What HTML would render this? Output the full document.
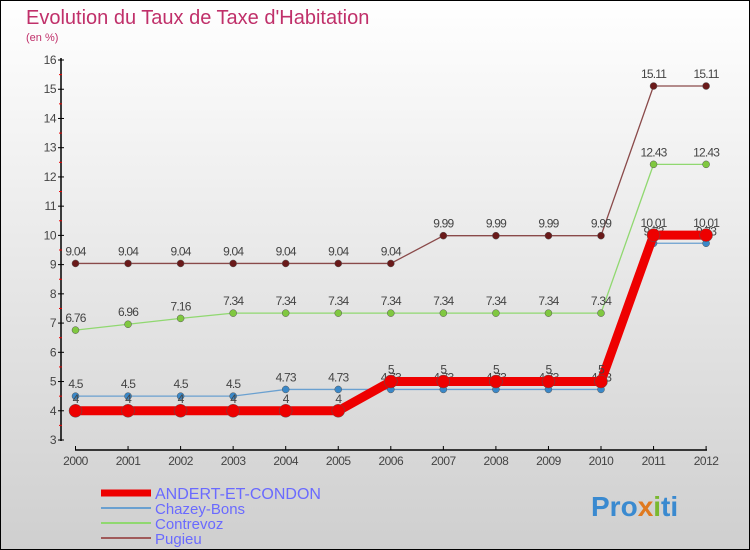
<!DOCTYPE html>
<html><head><meta charset="utf-8"><style>
body{margin:0}
#c{width:750px;height:550px;position:relative;overflow:hidden;font-family:"Liberation Sans",sans-serif}
</style></head><body>
<div id="c">
<svg id="s" width="750" height="550" xmlns="http://www.w3.org/2000/svg">
<defs><linearGradient id="bg" x1="0" y1="0" x2="0" y2="1"><stop offset="0" stop-color="#ffffff"/><stop offset="1" stop-color="#cfcfcf"/></linearGradient></defs>
<rect x="0.5" y="0.5" width="749" height="549" fill="url(#bg)" stroke="#000"/>
<text x="26" y="24" font-size="20" fill="#c0306a">Evolution du Taux de Taxe d'Habitation</text>
<text x="26" y="41" font-size="11" fill="#c0306a">(en %)</text>
<g id="g"></g>
<text x="591" y="516" font-size="28" font-weight="bold" fill="#3a8ad0">Pro<tspan fill="#e07a20">x</tspan><tspan fill="#7ab830">i</tspan>ti</text>
</svg>
</div>
<script>
const years=[2000,2001,2002,2003,2004,2005,2006,2007,2008,2009,2010,2011,2012];
const andert=[4,4,4,4,4,4,5,5,5,5,5,10.01,10.01];
const chazey=[4.5,4.5,4.5,4.5,4.73,4.73,4.73,4.73,4.73,4.73,4.73,9.73,9.73];
const contrevoz=[6.76,6.96,7.16,7.34,7.34,7.34,7.34,7.34,7.34,7.34,7.34,12.43,12.43];
const pugieu=[9.04,9.04,9.04,9.04,9.04,9.04,9.04,9.99,9.99,9.99,9.99,15.11,15.11];
const yTicks=[3,4,5,6,7,8,9,10,11,12,13,14,15,16];
const names=["ANDERT-ET-CONDON","Chazey-Bons","Contrevoz","Pugieu"];
const NS="http://www.w3.org/2000/svg";
const g=document.getElementById('g');
const X=i=>75.5+i*52.55;
const Y=v=>440-(v-3)*29.23;
function el(t,a,txt){const e=document.createElementNS(NS,t);for(const k in a)e.setAttribute(k,a[k]);if(txt!==undefined)e.textContent=txt;g.appendChild(e);return e;}
let e=el('line',{x1:61,y1:58,x2:61,y2:441,stroke:'#000','stroke-width':1.5});


e=el('line',{x1:75,y1:450,x2:707,y2:450,stroke:'#000','stroke-width':1.5});


yTicks.forEach(v=>{
 el('line',{x1:58,y1:Y(v),x2:64,y2:Y(v),stroke:'#000'});
 if(v<16){el('line',{x1:59,y1:Y(v+0.5),x2:62,y2:Y(v+0.5),stroke:'#e00'});}
 e=el('text',{x:56,y:Y(v)+4,'font-size':12,fill:'#444','text-anchor':'end','letter-spacing':'-0.5'},String(v));
 
 
});
years.forEach((y,i)=>{
 el('line',{x1:X(i),y1:446,x2:X(i),y2:450,stroke:'#000'});
 e=el('text',{x:X(i),y:465,'font-size':12,fill:'#444','text-anchor':'middle','letter-spacing':'-0.5'},String(y));
 
 
});
function series(data,color,w,r,name,dot){
 const p=data.map((v,i)=>X(i)+','+Y(v)).join(' ');
 let l=el('polyline',{points:p,fill:'none',stroke:color,'stroke-width':w,'stroke-linejoin':'round'});
 
 
 data.forEach((v,i)=>{
  let c=el('circle',{cx:X(i),cy:Y(v),r:r,fill:dot,stroke:'#555','stroke-width':0.5});
  
  
  let t=el('text',{x:X(i),y:Y(v)-8,'font-size':12,fill:'#444','text-anchor':'middle','letter-spacing':'-0.8'},String(v));
  
  
 });
}
series(pugieu,'#8a4a4a',1.3,3.5,'pugieu','#6a1a1a');
series(contrevoz,'#90d870',1.3,3.5,'contrevoz','#80c840');
series(chazey,'#6aa0d0',1.3,3.5,'chazey-bons','#3a88c8');
series(andert,'#ee0000',9,6.5,'andert-et-condon','#ee0000');
const lc=['#ee0000','#6aa0d0','#90d870','#a05a5a'],lw=[7,2,2,2];
names.forEach((n,i)=>{
 const y=493+i*15;
 e=el('line',{x1:101,y1:y,x2:151,y2:y,stroke:lc[i],'stroke-width':lw[i]});
 
 
 e=el('text',{x:155,y:y+6,'font-size':i==0?16:15,fill:'#6a6aff'},n);
 
 
});
</script>
</body></html>
